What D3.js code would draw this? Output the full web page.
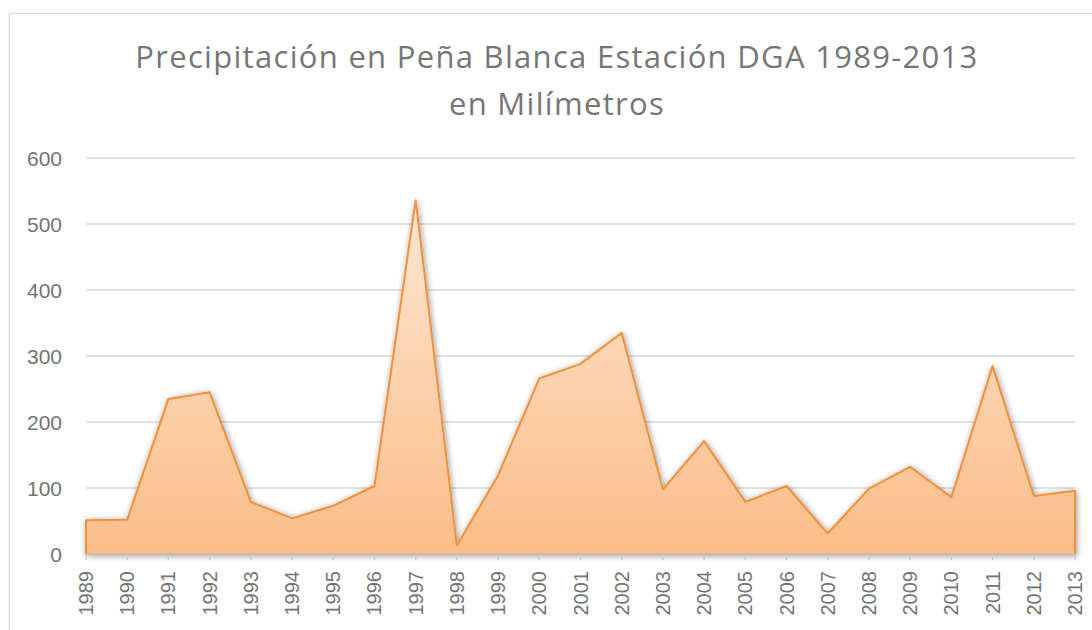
<!DOCTYPE html>
<html>
<head>
<meta charset="utf-8">
<script src="https://cdn.jsdelivr.net/npm/d3@7"></script>
<style>
  body { margin: 0; background: #fff; }
  text { font-family: "Liberation Sans", Arial, sans-serif; }
</style>
</head>
<body>
<script>
// data (mm per year)
var years = ["1989","1990","1991","1992","1993","1994","1995","1996","1997","1998","1999","2000","2001",
             "2002","2003","2004","2005","2006","2007","2008","2009","2010","2011","2012","2013"];
var rain = [51, 52, 235, 245, 79, 54, 73, 103, 536, 13, 119, 266, 288,
            335, 98, 171, 79, 103, 31, 99, 132, 86, 285, 88, 96];
var yTicks = [0, 100, 200, 300, 400, 500, 600];
var titleLines = ["Precipitación en Peña Blanca Estación DGA 1989-2013", "en Milímetros"];

var W = 1092, H = 630;
var plotL = 86, plotR = 1075, plotT = 158, plotB = 554;

var svg = d3.select("body").append("svg").attr("width", W).attr("height", H);

var defs = svg.append("defs");
var grad = defs.append("linearGradient").attr("id", "fillGrad")
  .attr("x1", 0).attr("y1", 0).attr("x2", 0).attr("y2", 1);
grad.append("stop").attr("offset", "0%").attr("stop-color", "#fee7d3");
grad.append("stop").attr("offset", "100%").attr("stop-color", "#fbbd88");

var shadow = defs.append("filter").attr("id", "shadow")
  .attr("x", "-10%").attr("y", "-10%").attr("width", "120%").attr("height", "120%");
shadow.append("feGaussianBlur").attr("in", "SourceAlpha").attr("stdDeviation", 3).attr("result", "b");
shadow.append("feOffset").attr("in", "b").attr("dx", 1).attr("dy", 1).attr("result", "o");
shadow.append("feComponentTransfer").attr("in", "o").attr("result", "s")
  .append("feFuncA").attr("type", "linear").attr("slope", 0.4);
var merge = shadow.append("feMerge");
merge.append("feMergeNode").attr("in", "s");
merge.append("feMergeNode").attr("in", "SourceGraphic");

// chart frame
svg.append("rect")
  .attr("x", 9.5).attr("y", 13.5).attr("width", W + 10).attr("height", H + 10)
  .attr("fill", "none").attr("stroke", "#d9d9d9").attr("stroke-width", 1.3);

// title
svg.append("text")
  .attr("text-anchor", "middle")
  .attr("fill", "#767676")
  .style("font-family", "'Open Sans', sans-serif")
  .style("font-size", "31px")
  .style("letter-spacing", "1.3px")
  .selectAll("tspan").data(titleLines).enter().append("tspan")
  .attr("x", 557).attr("y", function(d, i) { return 68 + i * 47; })
  .text(function(d) { return d; });

var x = d3.scalePoint().domain(years).range([plotL, plotR]);
var y = d3.scaleLinear().domain([0, 600]).range([plotB, plotT]);

// gridlines
svg.append("g").selectAll("line").data(yTicks.slice(1)).enter().append("line")
  .attr("x1", plotL).attr("x2", plotR)
  .attr("y1", function(d) { return y(d); }).attr("y2", function(d) { return y(d); })
  .attr("stroke", "#d9d9d9").attr("stroke-width", 1.3);

// y labels
svg.append("g").selectAll("text").data(yTicks).enter().append("text")
  .attr("x", 62).attr("y", function(d) { return y(d) + 8; })
  .attr("text-anchor", "end")
  .attr("fill", "#747474")
  .style("font-size", "21px")
  .text(function(d) { return d; });

// area
var area = d3.area()
  .x(function(d, i) { return x(years[i]); })
  .y0(y(0))
  .y1(function(d) { return y(d); });

svg.append("path")
  .datum(rain)
  .attr("d", area)
  .attr("fill", "url(#fillGrad)")
  .attr("stroke", "#f0913d")
  .attr("stroke-width", 2)
  .attr("stroke-linejoin", "round")
  .attr("filter", "url(#shadow)");

// x axis
var xAxis = svg.append("g").attr("transform", "translate(0," + plotB + ")");
xAxis.append("line").attr("x1", plotL).attr("x2", plotR)
  .attr("stroke", "#c8c8c8").attr("stroke-width", 1.5);
xAxis.selectAll(".tk").data(years).enter().append("line")
  .attr("x1", function(d) { return x(d); }).attr("x2", function(d) { return x(d); })
  .attr("y1", 0).attr("y2", 6)
  .attr("stroke", "#c8c8c8").attr("stroke-width", 1.3);
xAxis.selectAll("text").data(years).enter().append("text")
  .attr("transform", function(d) { return "translate(" + (x(d) + 7) + ",17) rotate(-90)"; })
  .attr("text-anchor", "end")
  .attr("fill", "#747474")
  .style("font-size", "20px")
  .text(function(d) { return d; });
</script>
</body>
</html>
